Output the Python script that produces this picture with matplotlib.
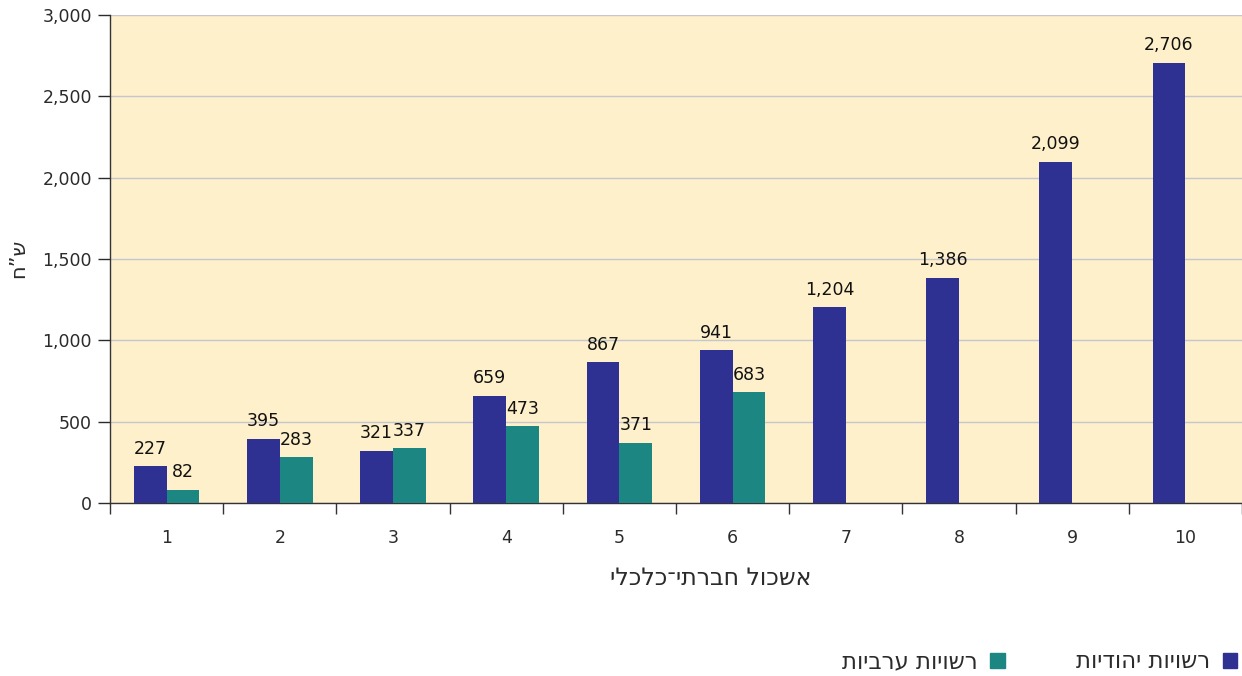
import numpy as np
import matplotlib
matplotlib.use('Agg')
from matplotlib import pyplot as plt
from matplotlib.patches import Patch

plt.rcParams['font.family'] = ['DejaVu Sans']

# socio-economic cluster, 1..10
clusters = ['1', '2', '3', '4', '5', '6', '7', '8', '9', '10']
jewish = [227, 395, 321, 659, 867, 941, 1204, 1386, 2099, 2706]
arab = [82, 283, 337, 473, 371, 683, None, None, None, None]

name_jewish = 'רשויות יהודיות'
name_arab = 'רשויות ערביות'
x_title = 'אשכול חברתי־כלכלי'
y_title = 'ש”ח'
yticks = [0, 500, 1000, 1500, 2000, 2500, 3000]


def heb(s):
    # matplotlib has no bidi, so flip the hebrew for display
    return s[::-1]


c_jew = '#2E3192'
c_arab = '#1C8782'
bg = '#FEF0CB'
txt = '#2b2b2b'

fig = plt.figure(figsize=(12.42, 6.76), dpi=100)
ax = fig.add_axes([110 / 1242, 1 - 503 / 676, 1 - 110 / 1242, (503 - 15) / 676])
ax.set_facecolor(bg)

x = np.arange(1, len(clusters) + 1)
w = 0.29

b1 = ax.bar(x - w / 2, jewish, w, color=c_jew, zorder=3)
arab_x = [xi + w / 2 for xi, v in zip(x, arab) if v is not None]
arab_v = [v for v in arab if v is not None]
b2 = ax.bar(arab_x, arab_v, w, color=c_arab, zorder=3)

for bars, vals in [(b1, jewish), (b2, arab_v)]:
    for r, v in zip(bars, vals):
        ax.annotate(f'{v:,}', (r.get_x() + r.get_width() / 2, r.get_height()),
                    xytext=(0, 6), textcoords='offset points',
                    ha='center', va='bottom', fontsize=12.5, color='#111111')

ax.set_xlim(0.5, len(clusters) + 0.5)
ax.set_ylim(0, 3000)
ax.set_yticks(yticks)
ax.set_yticklabels([f'{t:,}' for t in yticks])
ax.yaxis.grid(True, color='#C4C6D0', linewidth=1, zorder=1)

ax.set_xticks(x)
ax.set_xticklabels(clusters)
ax.set_xticks(np.arange(0.5, len(clusters) + 1, 1), minor=True)
ax.tick_params(axis='x', which='major', length=0, pad=19, labelsize=12.5, colors=txt)
ax.tick_params(axis='x', which='minor', length=8, width=1, color='#333333')
ax.tick_params(axis='y', length=9, width=1, pad=4, labelsize=12.5, colors=txt)

for s in ['top', 'right']:
    ax.spines[s].set_visible(False)
for s in ['left', 'bottom']:
    ax.spines[s].set_color('#333333')
    ax.spines[s].set_linewidth(1)

ax.set_xlabel(heb(x_title), fontsize=17, color=txt)
ax.xaxis.set_label_coords((711 - 110) / 1132, -(578 - 503) / 488)
ax.xaxis.label.set_va('center')
fig.text(18 / 1242, 1 - 258 / 676, heb(y_title), rotation=90, fontsize=15,
         color=txt, ha='center', va='center')

handles = [Patch(color=c_arab, label=heb(name_arab)),
           Patch(color=c_jew, label=heb(name_jewish))]
fig.legend(handles=handles, ncol=2, markerfirst=False, frameon=False,
           loc='center right', bbox_to_anchor=(1.0, 1 - 662 / 676),
           fontsize=16.5, handlelength=0.65, handleheight=0.65,
           handletextpad=0.55, columnspacing=3.1, labelcolor=txt,
           borderpad=0.0, borderaxespad=0.2)

fig.savefig('out.png', dpi=100, facecolor='white')
